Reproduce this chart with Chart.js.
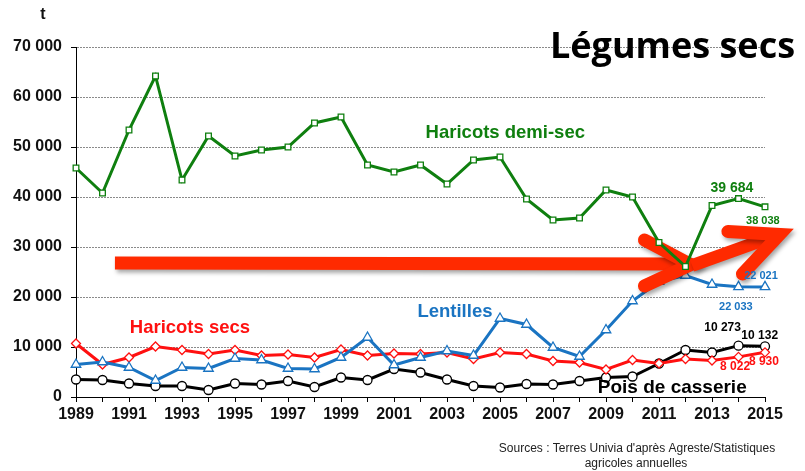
<!DOCTYPE html>
<html>
<head>
<meta charset="utf-8">
<script src="https://cdn.jsdelivr.net/npm/chart.js@4/dist/chart.umd.min.js"></script>
<style>
  html, body { margin: 0; padding: 0; background: #fff; }
  #wrap { width: 805px; height: 471px; position: relative; }
</style>
</head>
<body>
<div id="wrap"><canvas id="chart" width="805" height="471"></canvas></div>
<script>
const years = [];
for (let y = 1989; y <= 2015; y++) years.push(String(y));

const yTicks = [0, 10000, 20000, 30000, 40000, 50000, 60000, 70000];

const haricotsDemiSec = [45800, 40800, 53400, 64200, 43400, 52200, 48200, 49400, 50000, 54800,
  56000, 46400, 45000, 46400, 42600, 47400, 48000, 39600, 35400, 35800,
  41400, 40000, 30900, 26100, 38300, 39684, 38038];
const lentilles = [6500, 7000, 5900, 3300, 5900, 5700, 7700, 7400, 5700, 5600,
  7900, 11900, 6400, 7900, 9200, 8300, 15700, 14500, 9900, 8100,
  13400, 19200, 23100, 24300, 22500, 22033, 22021];
const haricotsSecs = [10700, 6500, 7900, 10100, 9400, 8600, 9400, 8300, 8500, 7900,
  9500, 8300, 8700, 8600, 8900, 7600, 8900, 8600, 7200, 6900,
  5500, 7400, 6700, 7600, 7300, 8022, 8930];
const poisCasserie = [3500, 3400, 2700, 2200, 2200, 1400, 2700, 2500, 3200, 2000,
  3900, 3400, 5600, 4900, 3500, 2200, 1900, 2600, 2500, 3200,
  3900, 4100, 6700, 9400, 8900, 10273, 10132];

const GREEN = "#0f7f0f";
const BLUE = "#1a74c2";
const RED = "#ff1010";
const ARROW = "#ff2a00";

const fmt = (v) => String(v).replace(/\B(?=(\d{3})+(?!\d))/g, " ");

// series names and value labels, placed in data space (year index, tonnes)
const seriesLabels = [
  { text: "Haricots demi-sec", x: 16.2, y: 52800, color: GREEN, size: 18.5 },
  { text: "Lentilles", x: 14.3, y: 17000, color: BLUE, size: 18.5 },
  { text: "Haricots secs", x: 4.3, y: 13800, color: RED, size: 18.5 },
  { text: "Pois de casserie", x: 22.5, y: 1800, color: "#000", size: 19 },
];
const valueLabels = [
  { text: "39 684", x: 24.75, y: 41800, color: GREEN, size: 14 },
  { text: "38 038", x: 25.92, y: 35200, color: GREEN, size: 11 },
  { text: "22 021", x: 25.85, y: 24200, color: BLUE, size: 11 },
  { text: "22 033", x: 24.9, y: 18000, color: BLUE, size: 11 },
  { text: "10 273", x: 24.4, y: 13800, color: "#000", size: 12 },
  { text: "10 132", x: 25.8, y: 12200, color: "#000", size: 12 },
  { text: "8 022", x: 24.87, y: 6000, color: RED, size: 12 },
  { text: "8 930", x: 25.96, y: 7000, color: RED, size: 12 },
];

const arrowPlugin = {
  id: "arrow",
  afterDatasetDraw(chart, args) {
    if (args.index !== 1) return; // draw after Lentilles, below the green line
    const { ctx, scales: { x, y } } = chart;
    const P = (i, v) => [x.getPixelForValue(i), y.getPixelForValue(v)];
    ctx.save();
    ctx.strokeStyle = ARROW;
    ctx.lineWidth = 13;
    ctx.shadowColor = "rgba(0,0,0,0.35)";
    ctx.shadowBlur = 4;
    ctx.shadowOffsetX = 2;
    ctx.shadowOffsetY = 3;
    const seg = (pts, cap) => {
      ctx.lineCap = cap;
      ctx.lineJoin = "miter";
      ctx.beginPath();
      pts.forEach((p, k) => (k ? ctx.lineTo(p[0], p[1]) : ctx.moveTo(p[0], p[1])));
      ctx.stroke();
    };
    // first arrow: horizontal
    seg([P(1.47, 26800), P(23.0, 26600)], "butt");
    seg([P(21.45, 31400), P(23.2, 26500), P(21.45, 22200)], "round");
    // second arrow: rising
    seg([P(23.25, 26300), P(26.35, 32200)], "butt");
    seg([P(24.6, 33100), P(26.55, 32500), P(25.15, 24600)], "round");
    ctx.restore();
  },
  afterDraw(chart) {
    const { ctx, scales: { x, y } } = chart;
    ctx.save();
    ctx.textAlign = "center";
    ctx.textBaseline = "middle";
    for (const l of seriesLabels.concat(valueLabels)) {
      ctx.font = "bold " + l.size + "px 'Liberation Sans', Arial, sans-serif";
      ctx.fillStyle = l.color;
      ctx.fillText(l.text, x.getPixelForValue(l.x), y.getPixelForValue(l.y));
    }
    // unit
    ctx.fillStyle = "#111";
    ctx.font = "bold 16px 'Liberation Sans', Arial, sans-serif";
    ctx.fillText("t", 43, 15);
    // title
    let size = 34;
    ctx.font = "bold " + size + "px 'Open Sans', sans-serif";
    const w = ctx.measureText("Légumes secs").width;
    size = Math.min(36, size * 248 / w);
    ctx.font = "bold " + size.toFixed(1) + "px 'Open Sans', sans-serif";
    ctx.textAlign = "left";
    ctx.textBaseline = "alphabetic";
    ctx.fillStyle = "#000";
    ctx.fillText("Légumes secs", 550, 58);
    // source
    ctx.textAlign = "center";
    ctx.textBaseline = "middle";
    ctx.font = "12px 'Liberation Sans', Arial, sans-serif";
    ctx.fillStyle = "#222";
    ctx.fillText("Sources : Terres Univia d'après Agreste/Statistiques", 637, 449);
    ctx.fillText("agricoles annuelles", 636, 464);
    ctx.restore();
  },
};

const mk = (label, data, color, style, radius) => ({
  label,
  data,
  borderColor: color,
  backgroundColor: "#fff",
  pointBackgroundColor: "#fff",
  pointBorderColor: color,
  pointBorderWidth: 1.3,
  pointStyle: style,
  pointRadius: radius,
  borderWidth: 3,
  tension: 0,
});

new Chart(document.getElementById("chart"), {
  type: "line",
  data: {
    labels: years,
    datasets: [
      mk("Haricots demi-sec", haricotsDemiSec, GREEN, "rect", 4),
      mk("Lentilles", lentilles, BLUE, "triangle", 5.5),
      mk("Haricots secs", haricotsSecs, RED, "rectRot", 4.5),
      mk("Pois de casserie", poisCasserie, "#000", "circle", 4.5),
    ],
  },
  options: {
    responsive: false,
    animation: false,
    layout: { padding: { left: 0, right: 40, top: 47, bottom: 0 } },
    plugins: { legend: { display: false }, tooltip: { enabled: false } },
    scales: {
      x: {
        offset: false,
        afterFit: (s) => { s.height = 74; },
        grid: { display: true, drawOnChartArea: false, tickLength: 5, color: "#000" },
        border: { display: true, color: "#000", width: 1 },
        ticks: {
          autoSkip: false,
          maxRotation: 0,
          padding: 3,
          color: "#111",
          font: { family: "'Liberation Sans', Arial, sans-serif", size: 16, weight: "bold" },
          callback: function (v, i) { return i % 2 === 0 ? years[i] : ""; },
        },
      },
      y: {
        min: 0,
        max: 70000,
        afterFit: (s) => { s.width = 76; },
        afterBuildTicks: (s) => { s.ticks = yTicks.map((v) => ({ value: v })); },
        grid: {
          color: "#8a8a8a",
          tickColor: "#000",
          tickLength: 5,
          lineWidth: 1,
        },
        border: { display: true, color: "#000", width: 1, dash: [2, 1] },
        ticks: {
          padding: 9,
          color: "#111",
          font: { family: "'Liberation Sans', Arial, sans-serif", size: 16, weight: "bold" },
          callback: (v) => fmt(v),
        },
      },
    },
  },
  plugins: [arrowPlugin],
});
</script>
</body>
</html>
